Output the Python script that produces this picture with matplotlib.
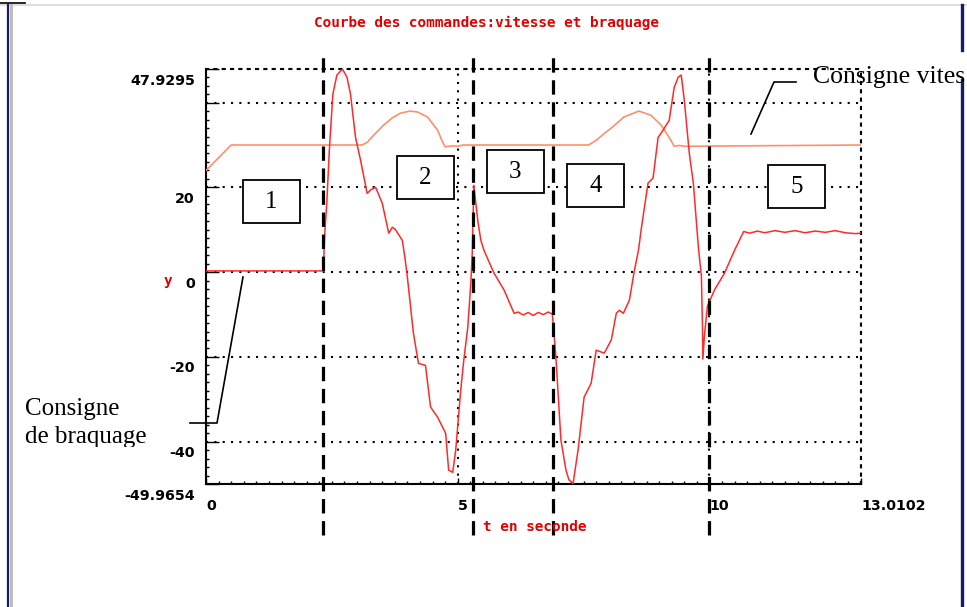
import matplotlib
matplotlib.use("Agg")
import matplotlib.pyplot as plt
from matplotlib.ticker import MultipleLocator
from matplotlib.transforms import ScaledTranslation, Bbox
from matplotlib.lines import Line2D
from matplotlib.patches import Rectangle

# consigne de vitesse (orange)
t_vit = [0, 0.5, 3.1, 3.2, 3.33, 3.53, 3.7, 3.86, 4.05, 4.2, 4.4, 4.6, 4.7, 4.75,
         4.9, 5.0, 5.1, 7.6, 7.75, 7.9, 8.05, 8.3, 8.6, 8.84, 9.04, 9.2, 9.3,
         9.4, 9.5, 13.0102]
vitesse = [24.0, 30.0, 30.0, 30.6, 32.3, 34.7, 36.4, 37.5, 38.0, 37.8, 36.6, 33.5,
           30.7, 29.6, 29.8, 29.7, 30.0, 30.0, 31.1, 32.6, 34.0, 36.6, 38.0, 37.0,
           34.7, 31.8, 29.7, 29.9, 29.7, 30.0]

# consigne de braquage (rouge)
t_braq = [0, 2.33, 2.36, 2.40, 2.45, 2.52, 2.60, 2.71, 2.80, 2.87, 2.97, 3.07,
          3.20, 3.28, 3.37, 3.50, 3.63, 3.70, 3.76, 3.90, 3.95, 4.00, 4.12, 4.22,
          4.36, 4.46, 4.60, 4.76, 4.82, 4.90, 4.96, 5.06, 5.12, 5.20, 5.26, 5.29,
          5.32, 5.40, 5.46, 5.52, 5.72, 5.92, 6.12, 6.2, 6.3, 6.4, 6.5, 6.6, 6.7,
          6.8, 6.88, 6.95, 7.05, 7.15, 7.21, 7.29, 7.39, 7.51, 7.65, 7.75, 7.91,
          8.05, 8.15, 8.21, 8.29, 8.41, 8.50, 8.59, 8.65, 8.78, 8.88, 8.98, 9.04,
          9.20, 9.30, 9.38, 9.44, 9.50, 9.60, 9.68, 9.78, 9.84, 9.86, 9.87, 9.90,
          9.96, 10.1, 10.3, 10.5, 10.68, 10.8, 10.95, 11.1, 11.3, 11.5, 11.7,
          11.9, 12.1, 12.3, 12.5, 12.7, 12.9, 13.0102]
braquage = [0.3, 0.3, 9.4, 16.5, 28.8, 42.0, 46.5, 47.9, 46.0, 42.0, 31.8, 26.4,
            18.6, 19.5, 20.0, 16.3, 9.2, 10.6, 10.1, 7.5, 3.5, -1.2, -14.4, -21.5,
            -22.0, -31.8, -34.2, -38.0, -46.7, -47.2, -42.0, -27.8, -20.8, -13.0,
            -2.6, 5.0, 20.5, 12.0, 7.5, 5.2, -0.2, -4.2, -9.7, -9.4, -10.1, -9.5,
            -10.2, -9.5, -10.0, -9.4, -9.9, -20.0, -39.6, -46.7, -49.0, -49.9,
            -42.0, -29.5, -26.2, -18.4, -19.1, -16.0, -9.7, -9.0, -9.7, -6.6, -0.2,
            5.2, 10.6, 21.0, 22.2, 31.8, 32.8, 35.8, 43.6, 46.0, 46.5, 40.6, 28.0,
            21.0, 5.9, -1.0, -12.0, -20.5, -15.0, -8.0, -4.2, -0.2, 5.2, 9.6, 9.2,
            9.7, 9.3, 9.8, 9.4, 9.8, 9.3, 9.7, 9.4, 9.8, 9.3, 9.1, 9.2]

# limites des phases
phases = [2.33, 5.30, 6.89, 10.0]
phase_labels = ["1", "2", "3", "4", "5"]

y_ticks = [-49.9654, -40, -20, 0, 20, 40, 47.9295]
y_labels = ["-49.9654", "-40", "-20", "0", "20", "", "47.9295"]
x_ticks = [0, 5, 10, 13.0102]
x_labels = ["0", "5", "10", "13.0102"]

W, H = 967, 607


def fx(x, y):
    return x / W, 1 - y / H


fig = plt.figure(figsize=(W / 100, H / 100), dpi=100)
ax = fig.add_axes([206 / W, 1 - 484 / H, (861 - 206) / W, (484 - 69) / H])

ax.plot(t_vit, vitesse, color="#ff8f6b", lw=1.2, zorder=3)
ax.plot(t_braq, braquage, color="#ff2a2a", lw=1.1, zorder=4)

for t in phases:
    ax.plot([t, t], [-61.9, 52.0], color="black", lw=2.3,
            ls=(0, (4.5, 2.4)), clip_on=False, zorder=5)

ax.set_xlim(0, 13.0102)
ax.set_ylim(-49.9654, 47.9295)

ax.set_yticks(y_ticks)
ax.set_yticklabels(y_labels)
ax.set_xticks(x_ticks)
ax.set_xticklabels(x_labels, ha="left")
ax.xaxis.set_minor_locator(MultipleLocator(0.25))
ax.yaxis.set_minor_locator(MultipleLocator(2))

ax.tick_params(axis="y", which="major", direction="in", length=9.5, width=1,
               pad=8, labelsize=10.3)
ax.tick_params(axis="y", which="minor", direction="in", length=2.5, width=1)
ax.tick_params(axis="x", which="major", direction="in", length=4, width=1,
               pad=11, labelsize=10.3)
ax.tick_params(axis="x", which="minor", direction="in", length=2.5, width=1)
for lbl in ax.get_xticklabels() + ax.get_yticklabels():
    lbl.set_fontweight("bold")
for lbl in ax.get_yticklabels():
    lbl.set_transform(lbl.get_transform() + ScaledTranslation(0, -0.10, fig.dpi_scale_trans))

dots = (0, (1, 3))
ax.grid(True, which="major", color="black", lw=1.5, ls=dots)
for s in ["top", "right"]:
    ax.spines[s].set_linestyle(dots)
    ax.spines[s].set_linewidth(1.5)
for s in ["left", "bottom"]:
    ax.spines[s].set_linewidth(1.5)

mono = dict(family="DejaVu Sans Mono", fontweight="bold", fontsize=10.4, color="#e00000")
fig.text(*fx(486, 23), "Courbe des commandes:vitesse et braquage", ha="center",
         va="center", **mono)
fig.text(*fx(535, 527), "t en seconde", ha="center", va="center", **mono)
fig.text(*fx(168, 281), "y", ha="center", va="center", **mono)

# boites numerotees
boxes = [(243, 180), (397, 156), (487, 150), (567, 164), (768, 165)]
for (bx, by), lab in zip(boxes, phase_labels):
    x0, y0 = fx(bx, by + 43)
    fig.patches.append(Rectangle((x0, y0), 57 / W, 43 / H, transform=fig.transFigure,
                                 facecolor="white", edgecolor="black", lw=1.3, zorder=6))
    fig.text(*fx(bx + 28.5, by + 22), lab, ha="center", va="center",
             family="Liberation Serif", fontsize=18, zorder=7)

serif = dict(family="Liberation Serif", fontsize=18, color="black")
fig.text(*fx(813, 83), "Consigne vites", ha="left", va="baseline",
         family="Liberation Serif", fontsize=18.5, color="black")
fig.text(*fx(25, 415), "Consigne", ha="left", va="baseline", **serif)
txt = fig.text(*fx(25, 443), "de braquage", ha="left", va="baseline", **serif)
txt.set_clip_on(True)
txt.set_clip_box(Bbox.from_extents(0, H - 447, W, H))

for xs, ys in [((190, 217, 243), (423, 423, 277)), ((751, 774, 796), (134, 82, 82))]:
    fig.add_artist(Line2D([x / W for x in xs], [1 - y / H for y in ys],
                          color="black", lw=1.2, transform=fig.transFigure))

# cadre de la fenetre
fig.add_artist(Line2D([0, 1], [1 - 5 / H] * 2, color="#d8d8d8", lw=1.2))
fig.add_artist(Line2D([0, 25 / W], [1 - 3 / H] * 2, color="black", lw=1.2))
fig.add_artist(Line2D([8 / W] * 2, [0, 1 - 5 / H], color="#1a1a70", lw=1.6))
fig.add_artist(Line2D([11 / W] * 2, [0, 1 - 5 / H], color="#bdbdbd", lw=2.2))
fig.add_artist(Line2D([962 / W] * 2, [1 - 5 / H, 1 - 50 / H], color="#1a1a70", lw=2.4))
fig.add_artist(Line2D([962 / W] * 2, [0, 1 - 80 / H], color="#1a1a70", lw=2.4))

fig.savefig("out.png", dpi=100)
